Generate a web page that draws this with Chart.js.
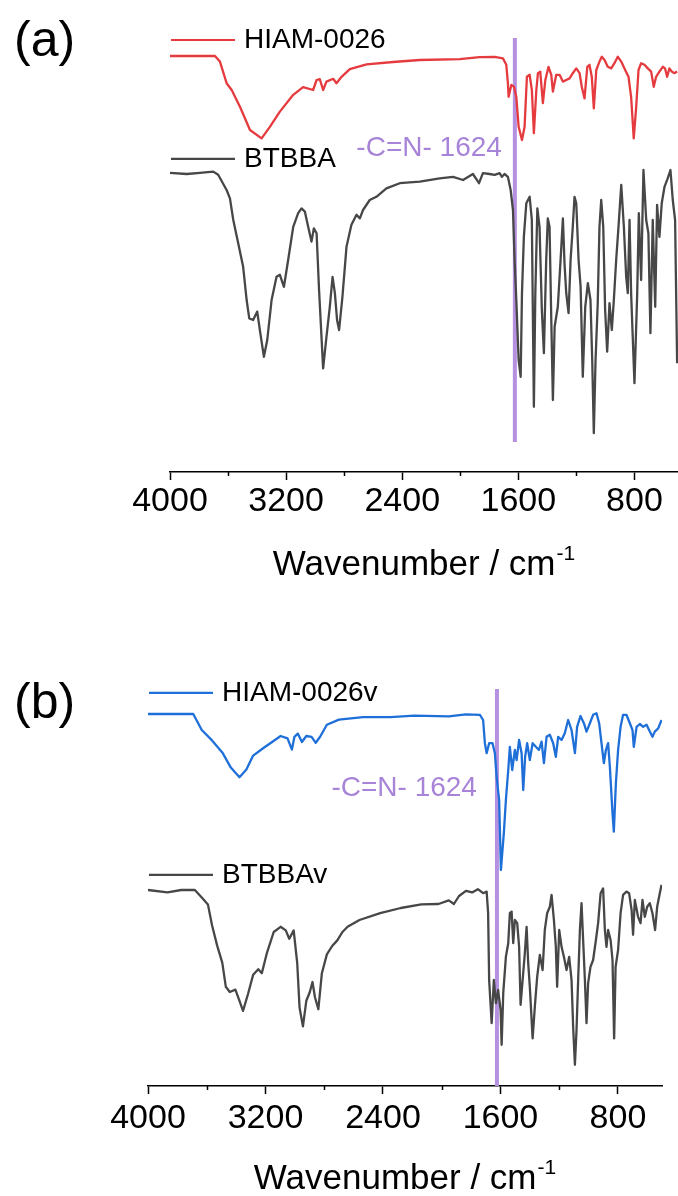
<!DOCTYPE html>
<html>
<head>
  <meta charset="utf-8" />
  <title>FTIR HIAM-0026 / BTBBA</title>
  <script src="https://cdn.jsdelivr.net/npm/chart.js@4.4.0/dist/chart.umd.min.js"></script>
  <style>
    body { margin: 0; background: #fff; }
    .panel { width: 678px; height: 598px; }
    canvas { display: block; }
  </style>
</head>
<body>

<div class="panel"><canvas id="chartA" width="678" height="598"></canvas></div>
<div class="panel"><canvas id="chartB" width="678" height="598"></canvas></div>

<script>
  const FONT = '"Liberation Sans", Arial, sans-serif';

  // x axis: wavenumber (cm-1), reversed
  const majorTicks = [4000, 3200, 2400, 1600, 800];
  const minorTicks = [3600, 2800, 2000, 1200];
  const cnPeak = 1624;
  const peakLabel = '-C=N- 1624';

  // spectra, [wavenumber, offset transmittance (a.u.)]
  const hiam = [[4000,104],[3690,104],[3656,102.6],[3610,97.2],[3575,95.5],[3518,91.3],[3449,85.5],[3369,83.4],[3312,86.3],[3243,90.1],[3151,94.3],[3083,96.2],[3014,95.5],[2990,98],[2968,98.2],[2945,95.5],[2922,97.6],[2876,98.3],[2853,97.2],[2818,98.8],[2761,100.7],[2646,101.9],[2463,102.5],[2280,103],[2004,103.2],[1867,103.7],[1763,103.8],[1706,103.4],[1683,101.8],[1672,97.2],[1667,93.8],[1648,96.8],[1630,96.3],[1614,93.8],[1598,86.3],[1575,83],[1557,86.3],[1541,98.8],[1522,99.3],[1507,95.5],[1493,84.7],[1476,95.5],[1465,99.7],[1449,100.1],[1431,92.2],[1414,98],[1392,101.3],[1373,99.3],[1362,95.1],[1339,99.3],[1316,99.3],[1293,97.6],[1270,98],[1247,98.4],[1225,99.7],[1201,100.9],[1178,99.7],[1163,96.3],[1144,93.4],[1125,101.3],[1110,101.8],[1094,98.8],[1080,90.9],[1063,100.5],[1041,102.6],[1025,103.8],[1006,103],[984,101.3],[960,100.9],[938,102.2],[915,103.8],[891,102.6],[864,100.5],[841,98.8],[823,93.8],[805,83.4],[788,91.3],[772,100.5],[754,102.2],[731,101.8],[708,100.9],[685,100.1],[667,96.3],[651,98.8],[628,100.1],[605,101.3],[589,100.9],[575,98.8],[559,100.9],[543,100.1],[525,99.7],[506,100.1]];

  const btbba = [[4000,74.8],[3885,74.5],[3794,74.8],[3702,75.1],[3668,74.3],[3610,70.5],[3587,68.4],[3564,63],[3530,57.2],[3496,51.3],[3472,43],[3454,38.4],[3427,38],[3399,40.1],[3381,35.5],[3353,28.8],[3330,33],[3300,43],[3266,48.8],[3243,49.3],[3215,46.3],[3186,53],[3151,61.3],[3117,64.7],[3094,65.9],[3071,65.1],[3048,61.3],[3025,57.6],[3009,60.9],[2990,59.7],[2973,45.5],[2945,25.9],[2922,33.8],[2899,41.3],[2880,48.8],[2864,44.7],[2849,38],[2835,35.5],[2812,43.8],[2784,56.3],[2750,61.8],[2715,64.3],[2692,63.4],[2670,65.5],[2624,68],[2578,68.8],[2509,70.9],[2417,72.2],[2279,72.6],[2142,73.4],[2050,73.8],[1981,73],[1913,74.5],[1871,72.2],[1844,74.7],[1798,74.5],[1763,74.3],[1729,74.7],[1713,73.8],[1695,74.5],[1672,73.8],[1653,70.5],[1637,65.5],[1626,53],[1614,43],[1598,28],[1584,23.8],[1575,44.7],[1562,58.8],[1545,67.2],[1522,68.8],[1507,63],[1493,16.3],[1483,44.7],[1469,65.9],[1454,61.3],[1438,40.5],[1424,29.7],[1408,53],[1397,63.4],[1385,61.3],[1373,38],[1362,18],[1350,36.3],[1328,41.3],[1309,53],[1293,63.4],[1282,52.2],[1270,44.7],[1254,39.7],[1240,53],[1225,61.3],[1213,68.8],[1201,67.2],[1185,53],[1171,46.3],[1156,23.8],[1139,41.3],[1121,47.2],[1103,43],[1091,28],[1080,9.7],[1068,28],[1053,42.2],[1041,61.3],[1029,68],[1015,61.3],[1002,40.5],[988,30.1],[972,42.2],[956,35.5],[942,43],[926,53],[910,61.3],[891,71.8],[873,61.3],[857,48.8],[846,44.7],[834,63],[823,44.7],[800,22.2],[781,44.7],[770,64.7],[754,48],[738,75.5],[719,63],[704,59.7],[690,34.7],[674,63],[657,41.3],[644,66.8],[628,58.8],[612,67.2],[593,71.3],[571,73.4],[552,75.5],[536,68],[520,63],[506,27.2]];

  const hiamV = [[4000,93],[3692,93],[3634,89],[3564,86.4],[3494,83.4],[3436,79.6],[3377,77.2],[3330,79.1],[3284,82.6],[3214,84.5],[3155,86],[3097,87.5],[3050,86.9],[3020,84.1],[3003,87.3],[2980,88.1],[2952,86],[2922,87.5],[2886,87.3],[2858,85.8],[2828,87.3],[2782,90.3],[2700,91.6],[2536,92.2],[2349,92.2],[2186,92.6],[1952,92.4],[1835,92.9],[1740,92.8],[1718,91.5],[1706,85.7],[1694,83.2],[1677,85.7],[1654,85.7],[1638,83.2],[1626,77.3],[1609,71.5],[1597,54],[1577,63.2],[1563,71.5],[1547,79],[1536,84.8],[1520,79],[1502,84],[1490,81.5],[1473,86.5],[1456,83.2],[1445,74],[1432,82.3],[1418,85.7],[1400,81.5],[1381,85.7],[1359,84.8],[1338,84],[1320,86.1],[1304,80.7],[1286,87.3],[1264,87.8],[1241,85.7],[1223,82.3],[1207,87.3],[1184,86.5],[1162,88.2],[1139,91.5],[1116,89],[1093,83.2],[1078,89.8],[1055,92.5],[1032,90.7],[1014,88.6],[991,90.7],[969,92.8],[946,93.2],[928,90.7],[912,85.7],[896,80.7],[882,84],[867,85.7],[855,79.8],[837,68.2],[828,63.6],[814,75.7],[799,84],[782,89.8],[765,92.8],[742,92.8],[719,90.7],[701,89],[692,84.8],[673,89.8],[651,90.5],[628,89.8],[605,90.3],[583,88.6],[565,87.3],[549,88.6],[526,89.4],[503,91.5]];

  const btbbaV = [[4000,49],[3867,48.4],[3774,49],[3681,49],[3634,47.1],[3592,45.4],[3564,40.2],[3529,35.1],[3494,30.8],[3470,24.8],[3443,23.5],[3405,24.1],[3377,21.3],[3353,18.8],[3319,23],[3284,27.8],[3249,29.2],[3225,28.2],[3190,33.3],[3144,38.5],[3097,39.8],[3062,38.9],[3038,36.8],[3008,38.9],[2984,30.8],[2968,19.6],[2945,14.9],[2922,21.3],[2898,23.5],[2880,26],[2863,22.2],[2840,19.2],[2816,28.2],[2782,32.9],[2746,35],[2711,36.4],[2676,38.5],[2641,39.8],[2560,41.5],[2419,43.2],[2279,44.5],[2139,45.4],[2022,45.5],[1952,46.4],[1917,45.5],[1882,47.5],[1835,48.8],[1793,48.4],[1754,49.2],[1718,48.2],[1694,48.6],[1684,43.2],[1677,26.5],[1660,15.7],[1645,26.5],[1631,20.7],[1616,24],[1599,19],[1592,10.3],[1581,23.2],[1563,32.3],[1547,35.7],[1536,43.2],[1524,43.6],[1513,35.7],[1502,41.5],[1486,40.7],[1473,34.8],[1463,20.3],[1449,26.5],[1434,33.2],[1422,39.8],[1411,30.7],[1400,24.8],[1381,11.9],[1366,19.8],[1350,27.3],[1332,32.8],[1313,29],[1298,39],[1282,43.2],[1264,44.8],[1252,47.8],[1236,41.5],[1223,34.8],[1214,24.8],[1200,39],[1184,34.8],[1168,32.3],[1150,29],[1132,32.3],[1116,26.5],[1105,14.8],[1093,5.3],[1082,14],[1071,26.5],[1059,39],[1048,45.7],[1037,36.5],[1025,26.5],[1014,15.7],[1003,25.7],[987,29.8],[969,31.5],[950,36.5],[935,40.7],[918,48.2],[901,49.4],[889,39],[878,34.8],[867,39],[850,36.5],[837,31.5],[826,11.9],[816,29.8],[799,34],[782,43.2],[765,47.8],[742,48.6],[724,48.2],[707,44],[697,37.8],[685,46.5],[663,42.3],[646,40.7],[633,46.5],[617,42.3],[601,44.8],[583,45.7],[565,43.2],[547,39],[533,44.8],[515,48.2],[503,50.3]];

  // vertical marker extent (a.u.) per panel
  const markerA = [7.5, 108.5];
  const markerB = [0, 99.25];

  const RED = '#e53b3f', BLUE = '#1f6fd8', GREY = '#474747', PURPLE = '#b690e0';

  const toXY = arr => arr.map(([w, t]) => ({ x: w, y: t }));

  // draws panel letter, legend rows, peak label, axis title, minor ticks
  const overlay = {
    id: 'overlay',
    afterDraw(chart, args, o) {
      const ctx = chart.ctx;
      const xs = chart.scales.x, ys = chart.scales.y;
      ctx.save();

      // minor ticks
      ctx.strokeStyle = '#000';
      ctx.lineWidth = 1.5;
      minorTicks.forEach(v => {
        const x = Math.round(xs.getPixelForValue(v)) + 0.5;
        ctx.beginPath();
        ctx.moveTo(x, xs.top);
        ctx.lineTo(x, xs.top + 4);
        ctx.stroke();
      });

      // panel letter
      ctx.fillStyle = '#000';
      ctx.font = '50px ' + FONT;
      ctx.textBaseline = 'middle';
      ctx.textAlign = 'left';
      ctx.fillText(o.letter, 14, o.letterY);

      // legend rows
      ctx.font = '28px ' + FONT;
      o.legend.forEach(l => {
        const y = ys.getPixelForValue(l.v);
        ctx.strokeStyle = l.color;
        ctx.lineWidth = 2.2;
        ctx.beginPath();
        ctx.moveTo(xs.left + 1, y);
        ctx.lineTo(xs.left + 65, y);
        ctx.stroke();
        ctx.fillStyle = '#000';
        ctx.fillText(l.text, xs.left + 74, y);
      });

      // peak label
      ctx.fillStyle = '#a884d8';
      ctx.textAlign = 'right';
      ctx.fillText(peakLabel, xs.getPixelForValue(cnPeak) - o.peakGap, ys.getPixelForValue(o.peakV));

      // axis title with superscript
      const main = 'Wavenumber / cm', sup = '-1';
      ctx.textAlign = 'left';
      ctx.textBaseline = 'alphabetic';
      ctx.font = '35px ' + FONT;
      const w1 = ctx.measureText(main).width;
      ctx.font = '21px ' + FONT;
      const w2 = ctx.measureText(sup).width;
      const x0 = (xs.left + xs.right) / 2 - (w1 + w2 + 1) / 2;
      const base = xs.top + 103;
      ctx.fillStyle = '#000';
      ctx.font = '35px ' + FONT;
      ctx.fillText(main, x0, base);
      ctx.font = '21px ' + FONT;
      ctx.fillText(sup, x0 + w1 + 1, base - 15);

      ctx.restore();
    }
  };

  function makePanel(canvasId, s1, s2, c1, c2, marker, cfg) {
    const ctx = document.getElementById(canvasId).getContext('2d');
    new Chart(ctx, {
      type: 'line',
      data: {
        datasets: [
          { data: toXY(s1), borderColor: c1, borderWidth: 2.3, pointRadius: 0, order: 1 },
          { data: toXY(s2), borderColor: c2, borderWidth: 2.3, pointRadius: 0, order: 2 },
          { data: [{ x: cnPeak, y: marker[0] }, { x: cnPeak, y: marker[1] }],
            borderColor: PURPLE, borderWidth: 4, pointRadius: 0, order: 3 }
        ]
      },
      options: {
        responsive: false,
        animation: false,
        devicePixelRatio: 1,
        events: [],
        layout: { padding: cfg.padding },
        plugins: {
          legend: { display: false },
          tooltip: { enabled: false },
          overlay: cfg.overlay
        },
        elements: { line: { tension: 0, borderJoinStyle: 'round' } },
        scales: {
          x: {
            type: 'linear',
            min: 500,
            max: 4000,
            reverse: true,
            afterBuildTicks: s => { s.ticks = majorTicks.map(v => ({ value: v })); },
            afterFit: s => { s.height = cfg.axisHeight; },
            ticks: {
              autoSkip: false,
              maxRotation: 0,
              padding: cfg.tickPad,
              color: '#000',
              font: { family: FONT, size: 34 },
              callback: v => String(v)
            },
            grid: {
              drawOnChartArea: false,
              drawTicks: true,
              tickLength: 8,
              tickColor: '#000',
              tickWidth: 1.5
            },
            border: { display: true, color: '#000', width: 1.5 }
          },
          y: { display: false, min: 0, max: 110 }
        }
      },
      plugins: [overlay]
    });
  }

  makePanel('chartA', hiam, btbba, RED, GREY, markerA, {
    padding: { left: 170, right: 0, top: 32, bottom: 0 },
    axisHeight: 126,
    tickPad: 1,
    overlay: {
      letter: '(a)', letterY: 42,
      legend: [
        { text: 'HIAM-0026', color: RED, v: 108 },
        { text: 'BTBBA', color: GREY, v: 78.3 }
      ],
      peakV: 81, peakGap: 13
    }
  });

  makePanel('chartB', hiamV, btbbaV, BLUE, GREY, markerB, {
    padding: { left: 148, right: 16, top: 48, bottom: 0 },
    axisHeight: 110,
    tickPad: 4,
    overlay: {
      letter: '(b)', letterY: 106,
      legend: [
        { text: 'HIAM-0026v', color: BLUE, v: 98.3 },
        { text: 'BTBBAv', color: GREY, v: 52.8 }
      ],
      peakV: 74.5, peakGap: 20
    }
  });
</script>

</body>
</html>
